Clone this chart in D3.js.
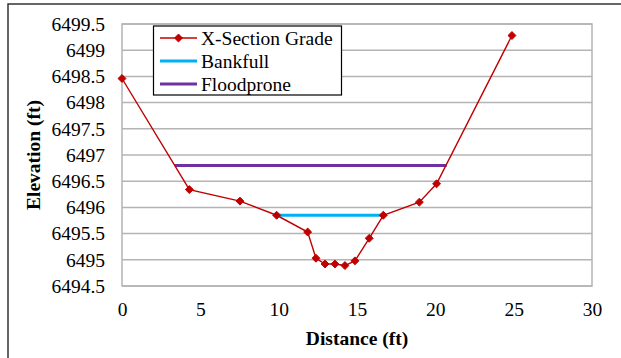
<!DOCTYPE html>
<html>
<head>
<meta charset="utf-8">
<script src="https://cdn.jsdelivr.net/npm/d3@7"></script>
<style>
  html, body { margin: 0; padding: 0; background: #fff; }
</style>
</head>
<body>
<svg id="chart" width="621" height="358"></svg>
<script>
// Cross-section survey: distance across channel (ft) vs. ground elevation (ft)
const distance  = [0, 4.3, 7.53, 9.87, 11.85, 12.38, 12.96, 13.59, 14.23, 14.87, 15.78, 16.68, 18.98, 20.08, 24.89];
const elevation = [6498.46, 6496.34, 6496.12, 6495.85, 6495.53, 6495.03, 6494.92, 6494.92, 6494.89, 6494.98, 6495.41, 6495.85, 6496.10, 6496.45, 6499.28];

// Bankfull and floodprone stage lines (start/end distance, elevation)
const bankfullX = [9.87, 16.68];
const bankfullY = [6495.85, 6495.85];
const floodproneX = [3.38, 20.72];
const floodproneY = [6496.80, 6496.80];

const xTicks = [0, 5, 10, 15, 20, 25, 30];
const yTicks = [6494.5, 6495, 6495.5, 6496, 6496.5, 6497, 6497.5, 6498, 6498.5, 6499, 6499.5];

const seriesNames = ["X-Section Grade", "Bankfull", "Floodprone"];
const seriesColors = ["#c00000", "#00b0f0", "#7030a0"];

const FONT = '"Liberation Serif", "Times New Roman", Times, serif';
const FS = "19.5px";

const svg = d3.select("#chart");
const plot = { left: 122, top: 24, right: 592, bottom: 286 };

const x = d3.scaleLinear().domain([0, 30]).range([plot.left, plot.right]);
const y = d3.scaleLinear().domain([6494.5, 6499.5]).range([plot.bottom, plot.top]);

// outer frame (top and left edges)
svg.append("path")
  .attr("d", "M8,358 L8,4 L621,4")
  .attr("fill", "none").attr("stroke", "#333").attr("stroke-width", 1.5);

// horizontal gridlines
svg.append("g").selectAll("line").data(yTicks).join("line")
  .attr("x1", plot.left).attr("x2", plot.right)
  .attr("y1", d => y(d)).attr("y2", d => y(d))
  .attr("stroke", "#b4b4b4").attr("stroke-width", 1.5);

// plot-area border
svg.append("rect")
  .attr("x", plot.left).attr("y", plot.top)
  .attr("width", plot.right - plot.left).attr("height", plot.bottom - plot.top)
  .attr("fill", "none").attr("stroke", "#b4b4b4").attr("stroke-width", 1.5);

// y axis labels
const yAxis = d3.axisLeft(y).tickValues(yTicks).tickSize(0).tickPadding(17).tickFormat(d3.format("~g"));
const gy = svg.append("g").attr("transform", `translate(${plot.left},0)`).call(yAxis);
gy.select(".domain").remove();
gy.selectAll("text").style("font-family", FONT).style("font-size", FS).attr("fill", "#000");

// x axis labels
const xAxis = d3.axisBottom(x).tickValues(xTicks).tickSize(0).tickPadding(16).tickFormat(d3.format("d"));
const gx = svg.append("g").attr("transform", `translate(0,${plot.bottom})`).call(xAxis);
gx.select(".domain").remove();
gx.selectAll("text").style("font-family", FONT).style("font-size", FS).attr("fill", "#000")
  .attr("y", 29.5).attr("dy", null);

// axis titles
svg.append("text")
  .attr("x", (plot.left + plot.right) / 2).attr("y", 345)
  .attr("text-anchor", "middle")
  .style("font-family", FONT).style("font-size", FS).style("font-weight", "bold")
  .text("Distance (ft)");
svg.append("text")
  .attr("transform", `translate(40,${(plot.top + plot.bottom) / 2}) rotate(-90)`)
  .attr("text-anchor", "middle")
  .style("font-family", FONT).style("font-size", FS).style("font-weight", "bold")
  .text("Elevation (ft)");

const line = d3.line().x(d => x(d[0])).y(d => y(d[1]));

// floodprone and bankfull stage lines
svg.append("path")
  .datum(d3.zip(floodproneX, floodproneY))
  .attr("d", line).attr("fill", "none")
  .attr("stroke", seriesColors[2]).attr("stroke-width", 3);
svg.append("path")
  .datum(d3.zip(bankfullX, bankfullY))
  .attr("d", line).attr("fill", "none")
  .attr("stroke", seriesColors[1]).attr("stroke-width", 3);

// ground profile
const grade = d3.zip(distance, elevation);
svg.append("path")
  .datum(grade)
  .attr("d", line).attr("fill", "none")
  .attr("stroke", seriesColors[0]).attr("stroke-width", 1.4);

const diamond = d3.symbol().type(d3.symbolDiamond2).size(40);
svg.append("g").selectAll("path").data(grade).join("path")
  .attr("transform", d => `translate(${x(d[0])},${y(d[1])})`)
  .attr("d", diamond)
  .attr("fill", seriesColors[0]).attr("stroke", seriesColors[0]).attr("stroke-width", 1);

// legend
const lg = svg.append("g");
lg.append("rect")
  .attr("x", 153.5).attr("y", 26).attr("width", 188).attr("height", 69)
  .attr("fill", "#fff").attr("stroke", "#000").attr("stroke-width", 1.2);
const rowY = [38, 61, 84];
seriesNames.forEach((name, i) => {
  lg.append("line")
    .attr("x1", 160).attr("x2", 197).attr("y1", rowY[i]).attr("y2", rowY[i])
    .attr("stroke", seriesColors[i]).attr("stroke-width", i === 0 ? 1.4 : 3);
  if (i === 0) {
    lg.append("path")
      .attr("transform", `translate(178.5,${rowY[i]})`)
      .attr("d", diamond)
      .attr("fill", seriesColors[i]).attr("stroke", seriesColors[i]);
  }
  lg.append("text")
    .attr("x", 201).attr("y", rowY[i]).attr("dy", "0.35em")
    .style("font-family", FONT).style("font-size", FS)
    .text(name);
});
</script>
</body>
</html>
